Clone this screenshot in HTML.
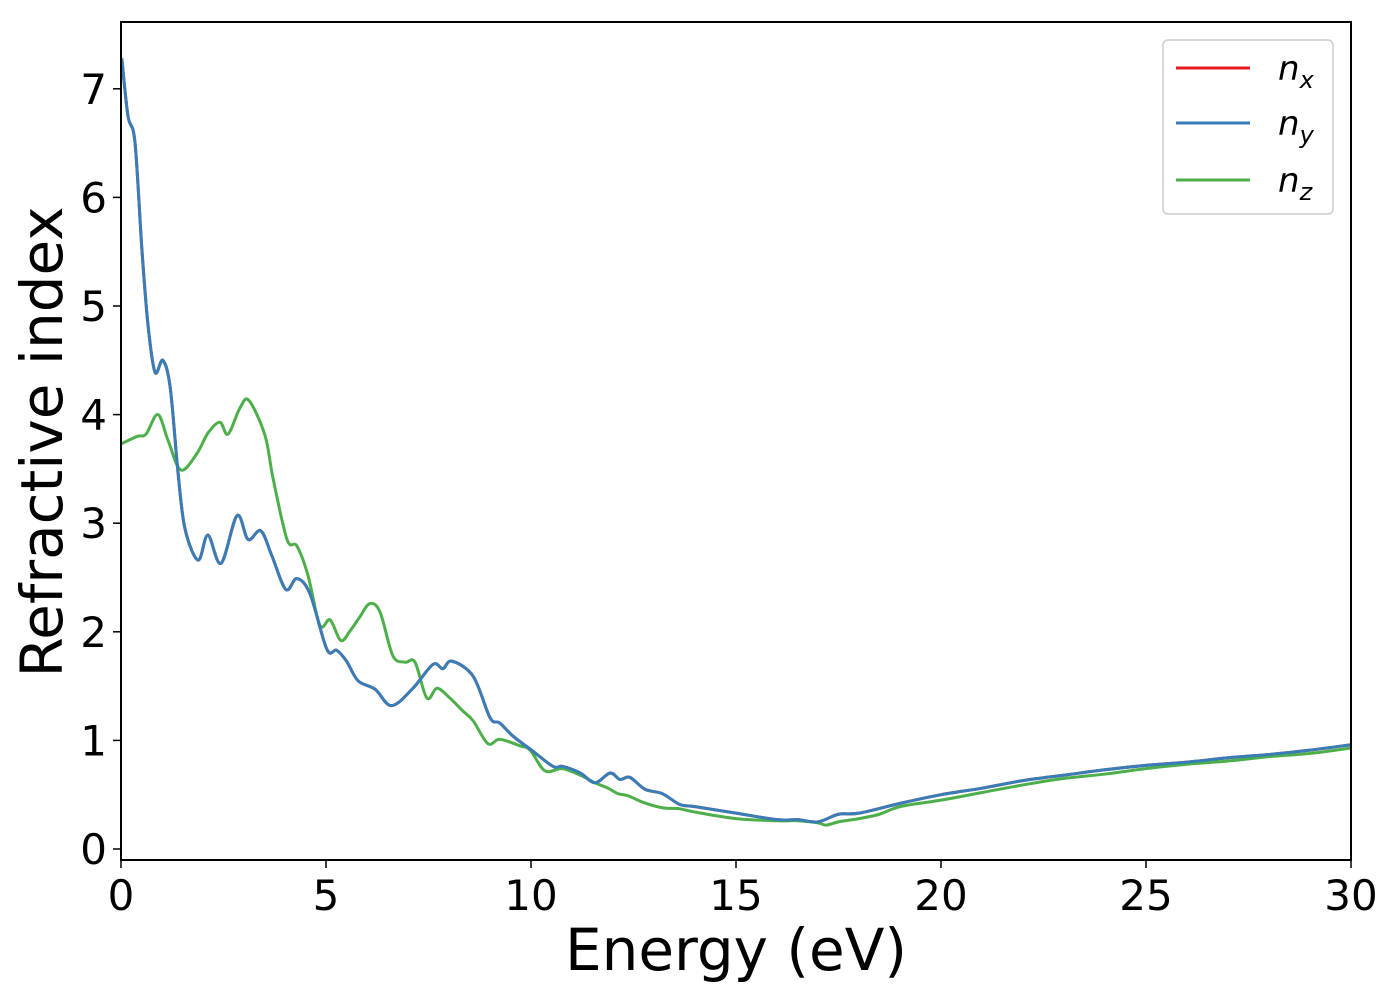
<!DOCTYPE html>
<html><head><meta charset="utf-8"><style>
body{margin:0;background:#fff}
svg{display:block;font-family:"DejaVu Sans","Liberation Sans",sans-serif}
</style></head><body>
<svg id="chart" width="1400" height="1000">
<rect x="121" y="22" width="1230" height="838" fill="#fff" stroke="none"/>
<g id="series"></g>
<rect x="121" y="22" width="1230" height="838" fill="none" stroke="#000" stroke-width="2"/>
<g id="xticks"></g>
<g id="yticks"></g>
<text x="736" y="970" font-size="58" text-anchor="middle">Energy (eV)</text>
<text transform="translate(62,442) rotate(-90)" font-size="58" text-anchor="middle">Refractive index</text>
<g>
<rect x="1163" y="40" width="170" height="174" rx="5" fill="#fff" fill-opacity="0.8" stroke="#ccc" stroke-width="1.5"/>
<g><line x1="1176" y1="68" x2="1250" y2="68" stroke="#e41a1c" stroke-width="3"/><text x="1278" y="80" font-size="34" font-style="italic">n<tspan font-size="24" dy="8">x</tspan></text></g>
<g><line x1="1176" y1="123" x2="1250" y2="123" stroke="#377eb8" stroke-width="3"/><text x="1278" y="135" font-size="34" font-style="italic">n<tspan font-size="24" dy="8">y</tspan></text></g>
<g><line x1="1176" y1="180" x2="1250" y2="180" stroke="#4daf4a" stroke-width="3"/><text x="1278" y="192" font-size="34" font-style="italic">n<tspan font-size="24" dy="8">z</tspan></text></g>
</g>
</svg>
<script>
const xTicks=[0,5,10,15,20,25,30];
const yTicks=[0,1,2,3,4,5,6,7];
const energyXY=[0.02,0.17,0.34,0.51,0.66,0.83,1.02,1.2,1.39,1.56,1.88,2.12,2.44,2.83,3.1,3.41,3.68,4.02,4.29,4.61,5.02,5.26,5.5,5.78,6.2,6.6,7.12,7.61,7.85,8.07,8.59,9.0,9.24,9.56,10.05,10.54,10.78,11.2,11.56,11.93,12.17,12.41,12.78,13.2,13.63,14,15,16,16.5,17,17.5,18,19,20,21,22,23,24,25,26,27,28,29,30];
const nx=[7.28,6.75,6.51,5.52,4.82,4.39,4.5,4.25,3.47,2.95,2.66,2.89,2.63,3.07,2.85,2.93,2.7,2.39,2.49,2.35,1.84,1.83,1.73,1.55,1.47,1.32,1.48,1.7,1.66,1.73,1.59,1.21,1.16,1.04,0.9,0.76,0.76,0.7,0.61,0.7,0.64,0.66,0.55,0.51,0.41,0.39,0.33,0.27,0.27,0.25,0.32,0.33,0.42,0.5,0.56,0.63,0.68,0.73,0.77,0.8,0.84,0.87,0.91,0.96];
const ny=[7.28,6.75,6.51,5.52,4.82,4.39,4.5,4.25,3.47,2.95,2.66,2.89,2.63,3.07,2.85,2.93,2.7,2.39,2.49,2.35,1.84,1.83,1.73,1.55,1.47,1.32,1.48,1.7,1.66,1.73,1.59,1.21,1.16,1.04,0.9,0.76,0.76,0.7,0.61,0.7,0.64,0.66,0.55,0.51,0.41,0.39,0.33,0.27,0.27,0.25,0.32,0.33,0.42,0.5,0.56,0.63,0.68,0.73,0.77,0.8,0.84,0.87,0.91,0.96];
const energyZ=[0,0.4,0.61,0.9,1.15,1.46,1.85,2.12,2.41,2.61,2.9,3.12,3.51,3.71,4.05,4.29,4.56,4.85,5.1,5.36,5.59,5.83,6.07,6.32,6.63,6.93,7.17,7.46,7.71,8.02,8.34,8.59,8.95,9.24,9.73,9.98,10.34,10.76,11.2,11.56,11.88,12.12,12.37,12.73,13.2,13.63,14,15,16,16.5,17,17.2,17.5,18,18.5,19,20,21,22,23,24,25,26,27,28,29,30];
const nz=[3.73,3.8,3.82,4.0,3.76,3.49,3.64,3.83,3.93,3.82,4.06,4.13,3.81,3.41,2.85,2.79,2.52,2.06,2.11,1.92,2.01,2.14,2.26,2.18,1.78,1.72,1.72,1.39,1.48,1.39,1.27,1.18,0.97,1.01,0.95,0.91,0.72,0.74,0.68,0.61,0.56,0.51,0.49,0.43,0.38,0.37,0.34,0.28,0.26,0.26,0.24,0.22,0.25,0.28,0.32,0.39,0.45,0.52,0.59,0.65,0.69,0.74,0.78,0.81,0.85,0.88,0.93];

const NS='http://www.w3.org/2000/svg';
const X0=121,X1=1351,Y0=849,PY=108.6;
function xs(v){return X0+(v-0)/(30-0)*(X1-X0);}
function ys(v){return Y0-v*PY;}
function mk(t,a){const e=document.createElementNS(NS,t);for(const k in a)e.setAttribute(k,a[k]);return e;}
const xg=document.getElementById('xticks'),yg=document.getElementById('yticks'),sg=document.getElementById('series');
xTicks.forEach(t=>{
  const l=mk('line',{x1:xs(t),x2:xs(t),y1:860,y2:868,stroke:'#000','stroke-width':1.5});
  
  
  xg.appendChild(l);
  const tx=mk('text',{x:xs(t),y:910,'font-size':42,'text-anchor':'middle'});
  tx.textContent=t;
  
  
  xg.appendChild(tx);
});
yTicks.forEach(t=>{
  const l=mk('line',{x1:113,x2:121,y1:ys(t),y2:ys(t),stroke:'#000','stroke-width':1.5});
  
  
  yg.appendChild(l);
  const tx=mk('text',{x:107,y:ys(t)+15,'font-size':42,'text-anchor':'end'});
  tx.textContent=t;
  
  
  yg.appendChild(tx);
});
function smoothPath(X,Y){
  const p=X.map((x,i)=>[xs(x),ys(Y[i])]);
  let d='M'+p[0][0]+','+p[0][1];
  for(let i=0;i<p.length-1;i++){
    const a=p[i-1]||p[i],b=p[i],c=p[i+1],e=p[i+2]||c;
    const c1=[b[0]+(c[0]-a[0])/6,b[1]+(c[1]-a[1])/6],c2=[c[0]-(e[0]-b[0])/6,c[1]-(e[1]-b[1])/6];
    d+=' C'+c1+' '+c2+' '+c;
  }
  return d;
}
function addLine(X,Y,col,name){
  const p=mk('path',{d:smoothPath(X,Y),fill:'none',stroke:col,'stroke-width':3,'stroke-linejoin':'round'});
  
  
  sg.appendChild(p);
}
addLine(energyXY,nx,'#e41a1c','line-nx');
addLine(energyZ,nz,'#4daf4a','line-nz');
addLine(energyXY,ny,'#377eb8','line-ny');
</script>
</body></html>
